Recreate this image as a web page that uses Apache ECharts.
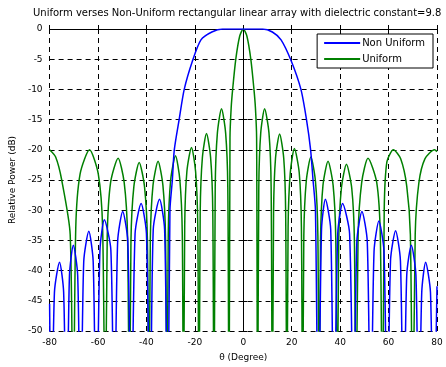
<!DOCTYPE html>
<html>
<head>
<meta charset="utf-8">
<script src="https://cdn.jsdelivr.net/npm/echarts@6/dist/echarts.min.js"></script>
<style>
html,body{margin:0;padding:0;background:#fff}
#main{width:446px;height:367px}
</style>
</head>
<body>
<div id="main"></div>
<script>
// [theta in degree, relative power in dB], nulls go below the -50 floor
var uniformPts = [
	[-80,-20],[-77.5,-21.2],[-75,-25],[-71.5,-34],[-70.3,-70],
	[-69.2,-33],[-67.4,-24],[-63.5,-20],[-59.9,-24],[-58.1,-33],[-57,-70],
	[-56.2,-34.4],[-54.8,-25.4],[-51.7,-21.4],[-49.2,-25.4],[-47.8,-34.4],[-47,-70],
	[-46.4,-35.1],[-45.2,-26.1],[-43,-22.1],[-40.8,-26.1],[-39.6,-35.1],[-39,-70],
	[-38.4,-34.9],[-37.3,-25.9],[-35.2,-21.9],[-33.2,-25.9],[-32.1,-34.9],[-31.5,-70],
	[-31,-34],[-30,-25],[-28,-21],[-26.2,-25],[-25.2,-34],[-24.7,-70],
	[-24.2,-32.6],[-23.3,-23.6],[-21.4,-19.6],[-19.7,-23.6],[-18.8,-32.6],[-18.3,-70],
	[-17.8,-30.3],[-16.9,-21.3],[-15.2,-17.3],[-13.5,-21.3],[-12.6,-30.3],[-12.1,-70],
	[-11.6,-26.2],[-10.7,-17.2],[-9,-13.2],[-7.3,-17.2],[-6.4,-26.2],[-5.9,-70],
	[-5.5,-18],[-5,-13],[-4.4,-10],[-3.1,-5],[-1.5,-1.2],[0,0],[1.5,-1.2],[3.1,-5],[4.4,-10],[5,-13],[5.5,-18],[5.9,-70],
	[6.4,-26.2],[7.2,-17.2],[8.8,-13.2],[10.6,-17.2],[11.5,-26.2],[12,-70],
	[12.5,-30.4],[13.3,-21.4],[15,-17.4],[16.7,-21.4],[17.5,-30.4],[18,-70],
	[18.5,-32.8],[19.4,-23.8],[21.1,-19.8],[23.1,-23.8],[24,-32.8],[24.5,-70],
	[25,-34.2],[26,-25.2],[27.9,-21.2],[29.8,-25.2],[30.8,-34.2],[31.3,-70],
	[31.9,-34.9],[32.9,-25.9],[35,-21.9],[37.1,-25.9],[38.2,-34.9],[38.8,-70],
	[39.4,-35.4],[40.5,-26.4],[42.6,-22.4],[44.8,-26.4],[45.9,-35.4],[46.5,-70],
	[47.4,-34.4],[48.9,-25.4],[51.5,-21.4],[55.1,-25.4],[56.6,-34.4],[57.5,-70],
	[58.2,-30],[59.3,-22],[62,-20],[65,-21.5],[67.5,-26],[69,-34],[70,-70],
	[71,-34],[72.5,-25.5],[75,-21.5],[79,-20],[80,-20.3]
];
var nonUniformPts = [
	[-80,-45.5],[-79.2,-70],
	[-78,-43.6],[-75.9,-38.6],[-74.2,-43.6],[-73,-70],
	[-71.8,-40.8],[-70.2,-35.8],[-68.4,-40.8],[-67.2,-70],
	[-65.9,-38.5],[-63.8,-33.5],[-62,-38.5],[-60.7,-70],
	[-59.2,-36.6],[-57.4,-31.6],[-54.7,-36.6],[-53.3,-70],
	[-51.9,-35.2],[-49.8,-30.2],[-47.7,-35.2],[-46.3,-70],
	[-44.7,-33.9],[-42.2,-28.9],[-40,-33.9],[-38.5,-70],
	[-37.2,-33.2],[-34.6,-28.2],[-32.5,-33.2],[-31.2,-70],
	[-30.3,-30],[-29.3,-25],[-28.5,-20],[-26.5,-15],[-24.4,-10],[-21,-5.3],[-17.5,-1.8],[-13,-0.5],[-8.6,0],
	[0,0],
	[8,0],[12,-0.5],[15.6,-1.8],[19.8,-5.3],[23.8,-10],[26.1,-15],[27.8,-20],[28.8,-25],[29.8,-30],[31,-70],
	[32.3,-33.2],[33.9,-28.2],[36.1,-33.2],[37.4,-70],
	[39,-33.9],[41,-28.9],[43.9,-33.9],[45.5,-70],
	[46.9,-35.2],[49,-30.2],[51.2,-35.2],[52.6,-70],
	[54,-36.8],[56,-31.8],[58.1,-36.8],[59.5,-70],
	[60.8,-38.4],[62.9,-33.4],[64.9,-38.4],[66.2,-70],
	[67.5,-40.8],[69.4,-35.8],[71.3,-40.8],[72.5,-70],
	[73.7,-43.6],[75.3,-38.6],[77.3,-43.6],[78.5,-70],
	[80,-42.6]
];
var seriesNames = ['Non Uniform','Uniform'];
var seriesColors = ['#0000ff','#008000'];
var titleText = 'Uniform verses Non-Uniform rectangular linear array with dielectric constant=9.8';

var myChart = echarts.init(document.getElementById('main'));
var font = 'DejaVu Sans';
var option = {
	animation:false,
	backgroundColor:'#fff',
	title:{
		text:titleText,
		left:33,
		top:8,
		padding:0,
		textStyle:{fontFamily:font,fontSize:10,fontWeight:'normal',color:'#000'}
	},
	legend:{
		data:seriesNames,
		orient:'vertical',
		right:13,
		top:34,
		padding:[4,8,4,7],
		itemGap:6,
		itemWidth:36,
		itemHeight:2,
		icon:'rect',
		backgroundColor:'#fff',
		borderColor:'#000',
		borderWidth:1,
		textStyle:{fontFamily:font,fontSize:10,color:'#000',padding:[0,0,0,-3]}
	},
	grid:{left:48,right:9,top:29,bottom:32},
	xAxis:[
		{
			type:'value',min:-80,max:80,interval:20,
			name:'θ (Degree)',nameLocation:'middle',nameGap:22,
			nameTextStyle:{fontFamily:font,fontSize:9,color:'#000'},
			axisLine:{lineStyle:{color:'#000',width:1}},
			axisTick:{inside:true,length:4,lineStyle:{color:'#000'}},
			axisLabel:{fontFamily:font,fontSize:9,color:'#000',margin:7},
			splitLine:{show:true,lineStyle:{color:'#000',type:[5,4],width:1}}
		},
		{
			type:'value',min:-80,max:80,interval:20,position:'top',
			axisLine:{lineStyle:{color:'#000',width:1}},
			axisTick:{inside:true,length:4,lineStyle:{color:'#000'}},
			axisLabel:{show:false},
			splitLine:{show:false}
		}
	],
	yAxis:[
		{
			type:'value',min:-50,max:0,interval:5,
			name:'Relative Power (dB)',nameLocation:'middle',nameGap:31,
			nameTextStyle:{fontFamily:font,fontSize:9,color:'#000'},
			axisLine:{show:true,lineStyle:{color:'#000',width:1}},
			axisTick:{show:true,inside:true,length:4,lineStyle:{color:'#000'}},
			axisLabel:{fontFamily:font,fontSize:9,color:'#000',margin:7},
			splitLine:{show:true,lineStyle:{color:'#000',type:[5,4],width:1}}
		},
		{
			type:'value',min:-50,max:0,interval:5,position:'right',
			axisLine:{show:true,lineStyle:{color:'#000',width:1}},
			axisTick:{show:true,inside:true,length:4,lineStyle:{color:'#000'}},
			axisLabel:{show:false},
			splitLine:{show:false}
		}
	],
	series:[]
};
var allPts = [nonUniformPts,uniformPts];
for(var i=0;i<seriesNames.length;i++){
	option.series.push({
		name:seriesNames[i],
		type:'line',
		xAxisIndex:0,
		yAxisIndex:0,
		data:allPts[i],
		symbol:'none',
		smooth:0.25,
		clip:true,
		z:i==0?3:2,
		itemStyle:{color:seriesColors[i]},
		lineStyle:{color:seriesColors[i],width:1.5}
	});
}
myChart.setOption(option);
</script>
</body>
</html>
